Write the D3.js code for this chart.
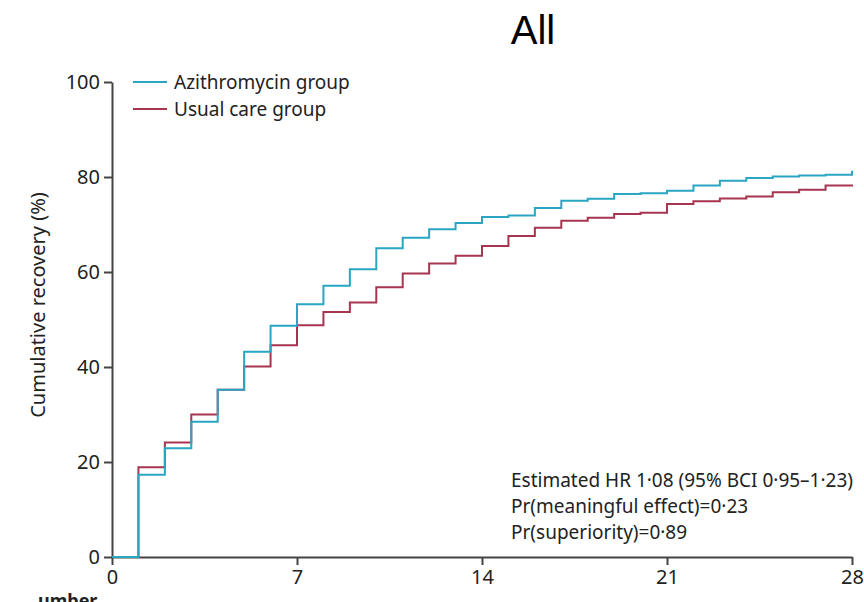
<!DOCTYPE html>
<html>
<head>
<meta charset="utf-8">
<script src="https://cdn.jsdelivr.net/npm/d3@7"></script>
<style>
  body { margin: 0; background: #fff; }
  text { font-family: "Noto Sans", "Open Sans", sans-serif; fill: #222; }
</style>
</head>
<body>
<svg width="864" height="602"></svg>
<script>
var svg = d3.select('svg');

// days 0..28, step values (cumulative recovery %)
var days = d3.range(0, 29);
var azithro = [0, 17.3, 22.9, 28.5, 35.2, 43.2, 48.7, 53.2, 57.1, 60.6, 65.0, 67.2, 69.0, 70.3,
  71.6, 71.9, 73.5, 75.0, 75.4, 76.4, 76.6, 77.1, 78.2, 79.2, 79.8, 80.1, 80.3, 80.5, 81.3];
var usual = [0, 18.9, 24.1, 30.0, 35.2, 40.1, 44.6, 48.8, 51.6, 53.6, 56.8, 59.7, 61.8, 63.4,
  65.5, 67.6, 69.3, 70.8, 71.4, 72.2, 72.5, 74.3, 74.9, 75.5, 75.9, 76.8, 77.3, 78.2, 78.4];
var xTicks = [0, 7, 14, 21, 28];
var yTicks = [0, 20, 40, 60, 80, 100];
var seriesNames = ['Azithromycin group', 'Usual care group'];
var colors = ['#2aa6c2', '#a83550'];
var notes = ['Estimated HR 1\u00b708 (95% BCI 0\u00b795\u20131\u00b723)',
  'Pr(meaningful effect)=0\u00b723', 'Pr(superiority)=0\u00b789'];

var x = d3.scaleLinear().domain([0, 28]).range([112, 852]);
var y = d3.scaleLinear().domain([0, 100]).range([557, 82]);

// title
svg.append('text')
  .attr('x', 533).attr('y', 44)
  .attr('text-anchor', 'middle')
  .style('font-family', '"Liberation Sans", Arial, sans-serif')
  .style('font-size', '40px')
  .style('fill', '#000')
  .text('All');

// axes
var yAxis = svg.append('g')
  .attr('transform', 'translate(112,0)')
  .call(d3.axisLeft(y).tickValues(yTicks).tickSize(8).tickSizeOuter(0).tickPadding(4));
var xAxis = svg.append('g')
  .attr('transform', 'translate(0,557)')
  .call(d3.axisBottom(x).tickValues(xTicks).tickSize(8).tickSizeOuter(0).tickPadding(5));

[yAxis, xAxis].forEach(function(ax) {
  ax.select('.domain').attr('stroke', '#444').attr('stroke-width', 2);
  ax.selectAll('.tick line').attr('stroke', '#444').attr('stroke-width', 2);
  ax.selectAll('.tick text')
    .style('font-family', '"Noto Sans", sans-serif')
    .style('font-size', '20px')
    .attr('fill', '#222');
});

svg.append('text')
  .attr('transform', 'translate(45,305) rotate(-90)')
  .attr('text-anchor', 'middle')
  .style('font-size', '20px')
  .text('Cumulative recovery (%)');

// step curves
var line = d3.line()
  .x(function(d) { return x(d[0]); })
  .y(function(d) { return y(d[1]); })
  .curve(d3.curveStepAfter);

[usual, azithro].forEach(function(vals, i) {
  svg.append('path')
    .datum(days.map(function(d, j) { return [d, vals[j]]; }))
    .attr('d', line)
    .attr('fill', 'none')
    .attr('stroke', i === 0 ? colors[1] : colors[0])
    .attr('stroke-width', 2);
});

// legend
seriesNames.forEach(function(name, i) {
  var ly = 82 + i * 27;
  svg.append('line')
    .attr('x1', 133).attr('x2', 167)
    .attr('y1', ly).attr('y2', ly)
    .attr('stroke', colors[i]).attr('stroke-width', 2);
  svg.append('text')
    .attr('x', 174).attr('y', ly + 7)
    .style('font-size', '19px')
    .text(name);
});

// annotation
notes.forEach(function(t, i) {
  svg.append('text')
    .attr('x', 511).attr('y', 487 + i * 26)
    .style('font-size', '19px')
    .text(t);
});

// clipped label from the panel below (cut off in the reference too)
svg.append('text')
  .attr('x', 38).attr('y', 607)
  .style('font-size', '18px')
  .style('font-weight', 'bold')
  .text('umber');
</script>
</body>
</html>
